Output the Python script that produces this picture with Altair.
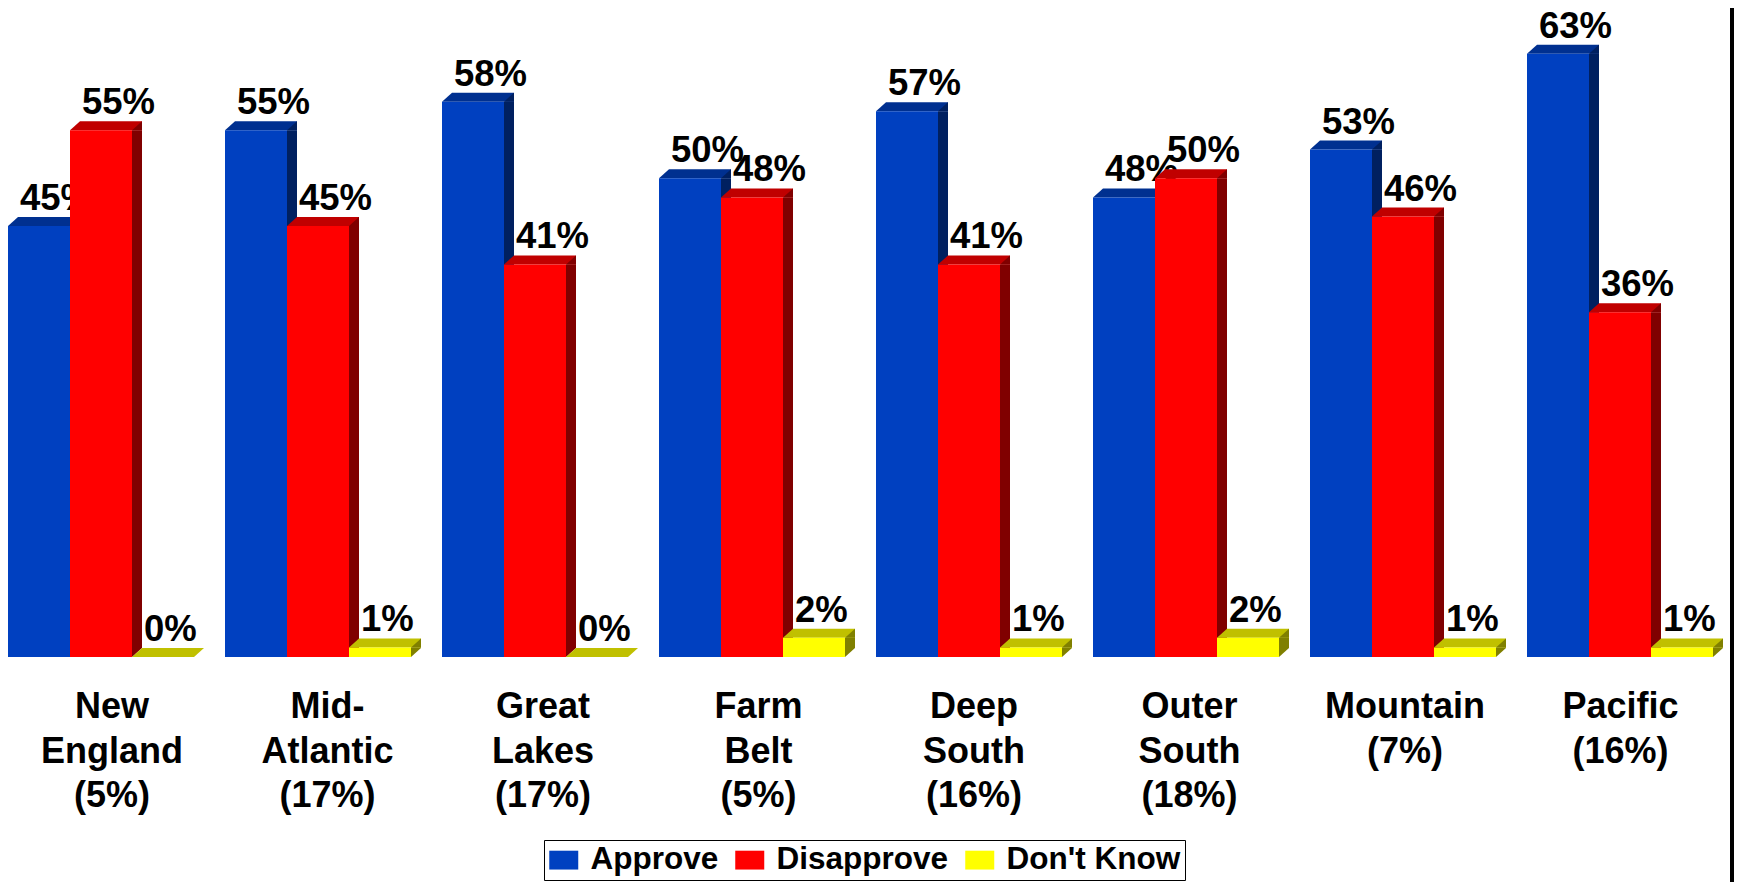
import altair as alt
import pandas as pd

# ---- data ----
regions = ["New England", "Mid-Atlantic", "Great Lakes", "Farm Belt",
           "Deep South", "Outer South", "Mountain", "Pacific"]
region_share = [5, 17, 17, 5, 16, 18, 7, 16]
series_names = ["Approve", "Disapprove", "Don't Know"]
approve = [45, 55, 58, 50, 57, 48, 53, 63]
disapprove = [55, 45, 41, 48, 41, 50, 46, 36]
dont_know = [0, 1, 0, 2, 1, 2, 1, 1]

front_colors = ["#0040C0", "#FF0000", "#FFFF00"]
top_colors = ["#003090", "#C00000", "#C0C000"]
side_colors = ["#002060", "#800000", "#808000"]

series_values = [approve, disapprove, dont_know]
rows = []
for s, vals in zip(series_names, series_values):
    for r, v in zip(regions, vals):
        rows.append({"region": r, "series": s, "value": v, "label": f"{v}%"})
df = pd.DataFrame(rows)

cat_df = pd.DataFrame({
    "region": regions,
    "text": [r.replace(" ", "\n").replace("-", "-\n") + f"\n({s}%)"
             for r, s in zip(regions, region_share)],
})

FONT = "Liberation Sans"
UL = "M-1,-0.9L1,-0.9L-1,0.9Z"   # upper-left triangle
LR = "M1,-0.9L1,0.9L-1,0.9Z"     # lower-right triangle

xscale = alt.Scale(type="band", domain=regions, range=[0, 1705],
                   paddingInner=31 / 217, paddingOuter=0)
yscale = alt.Scale(domain=[0, 67.78], range=[649, 0])

X = alt.X("region:N", scale=xscale, axis=None)
Y = alt.Y("value:Q", scale=yscale, axis=None)

legend = alt.Legend(
    title=None, orient="none", legendX=536, legendY=832, direction="horizontal",
    strokeColor="black", fillColor="white", padding=4,
    symbolType="M-1,-0.65L1,-0.65L1,0.65L-1,0.65Z", symbolSize=841,
    symbolStrokeWidth=0, symbolOpacity=1,
    labelFont=FONT, labelFontWeight="bold", labelFontSize=31.5, labelColor="black",
    labelOffset=11, columnPadding=15, labelLimit=400,
)

layers = []
offsets = [-62, 0, 62]
for i, s in enumerate(series_names):
    o = offsets[i]
    base = alt.Chart(df).transform_filter(alt.datum.series == s)
    pos = base.transform_filter(alt.datum.value > 0)
    zero = base.transform_filter(alt.datum.value == 0)
    # side face
    layers.append(pos.mark_bar(width=10, xOffset=o + 36, y2Offset=-9, color=side_colors[i])
                  .encode(x=X, y=Y, y2=alt.datum(0)))
    layers.append(pos.mark_point(shape=UL, size=100, filled=True, opacity=1, strokeWidth=0,
                                 xOffset=o + 36, yOffset=-4.5, color=side_colors[i])
                  .encode(x=X, y=alt.Y(datum=0, scale=yscale, axis=None)))
    # top face
    layers.append(base.mark_bar(width=62, xOffset=o + 10, yOffset=-9, color=top_colors[i])
                  .encode(x=X, y=Y, y2=alt.Y2("value:Q")))
    layers.append(pos.mark_point(shape=LR, size=100, filled=True, opacity=1, strokeWidth=0,
                                 xOffset=o + 36, yOffset=-4.5, color=side_colors[i])
                  .encode(x=X, y=Y))
    layers.append(zero.mark_point(shape=LR, size=100, filled=True, opacity=1, strokeWidth=0,
                                  xOffset=o + 36, yOffset=-4.5, color="white")
                  .encode(x=X, y=Y))
    layers.append(base.mark_point(shape=LR, size=100, filled=True, opacity=1, strokeWidth=0,
                                  xOffset=o - 26, yOffset=-4.5, color=top_colors[i])
                  .encode(x=X, y=Y))
    # front face
    layers.append(base.mark_bar(width=62, xOffset=o)
                  .encode(x=X, y=Y, y2=alt.datum(0),
                          color=alt.Color("series:N",
                                          scale=alt.Scale(domain=series_names, range=front_colors),
                                          legend=legend)))
    # value label
    layers.append(base.mark_text(align="left", baseline="alphabetic", font=FONT,
                                 fontWeight="bold", fontSize=36.5, color="black",
                                 dx=o - 19, dy=-16)
                  .encode(x=X, y=Y, text="label:N"))

bars = alt.layer(*layers)

cat_labels = alt.Chart(cat_df).mark_text(
    align="center", baseline="alphabetic", font=FONT, fontWeight="bold",
    fontSize=36, lineHeight=44.5, lineBreak="\n", color="black"
).encode(
    x=alt.X("region:N", scale=alt.Scale(type="point", domain=regions,
                                        range=[-3.75, 1720.25], padding=0.5), axis=None),
    y=alt.value(710),
    text="text:N",
)

strip = alt.Chart(alt.Data(values=[{"a": 1}])).mark_rect(color="black").encode(
    x=alt.value(1722), x2=alt.value(1726), y=alt.value(0), y2=alt.value(874)
)

chart = alt.layer(bars, cat_labels, strip).resolve_scale(x="independent").properties(
    width=1726, height=874,
    autosize=alt.AutoSizeParams(type="none"),
    padding=0, background="white",
).configure_view(stroke=None)

chart.save("out.html", embed_options={"renderer": "svg", "actions": False})
